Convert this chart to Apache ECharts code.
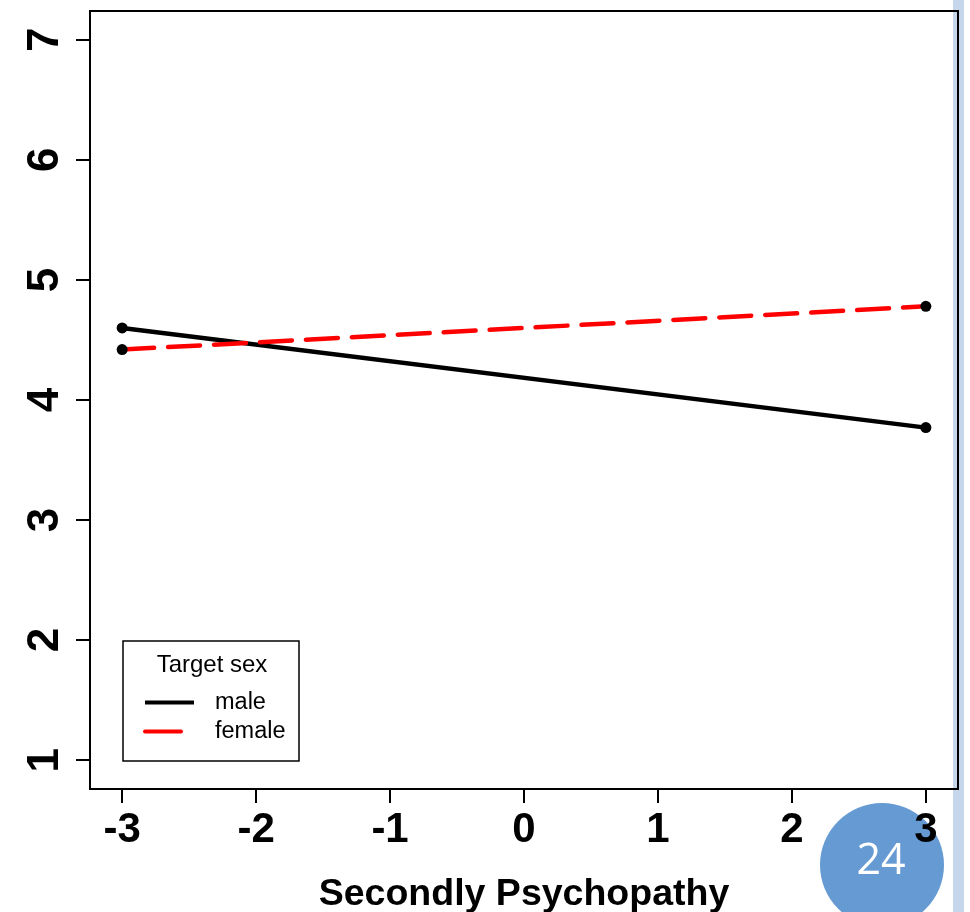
<!DOCTYPE html>
<html>
<head>
<meta charset="utf-8">
<script src="https://cdn.jsdelivr.net/npm/echarts@6/dist/echarts.min.js"></script>
<style>
html,body{margin:0;padding:0;background:#fff;}
#chart{width:970px;height:912px;}
</style>
</head>
<body>
<div id="chart"></div>
<script>
const xTicks = [-3, -2, -1, 0, 1, 2, 3];
const yTicks = [1, 2, 3, 4, 5, 6, 7];
const xPoints = [-3, 3];
const maleValues = [4.6, 3.77];
const femaleValues = [4.42, 4.78];
const seriesNames = ['male', 'female'];
const legendTitle = 'Target sex';
const xTitle = 'Secondly Psychopathy';
const slideNumber = '24';

const FONT = '"Liberation Sans", Arial, sans-serif';
const chart = echarts.init(document.getElementById('chart'), null, {renderer: 'canvas'});

const maleData = xPoints.map((x, i) => [x, maleValues[i]]);
const femaleData = xPoints.map((x, i) => [x, femaleValues[i]]);

const option = {
  backgroundColor: '#fff',
  animation: false,
  grid: {
    left: 90, right: 12, top: 11, bottom: 123,
    containLabel: false, outerBoundsMode: 'none',
    show: true, borderColor: '#000', borderWidth: 2, backgroundColor: 'transparent'
  },
  xAxis: {
    type: 'value', min: -3.24, max: 3.24,
    axisLine: {show: true, onZero: false, lineStyle: {color: '#000', width: 2}},
    axisTick: {show: true, length: 14, lineStyle: {color: '#000', width: 2}, customValues: xTicks},
    axisLabel: {
      customValues: xTicks, color: '#000', fontSize: 42, fontWeight: 'bold',
      fontFamily: FONT, margin: 20
    },
    splitLine: {show: false},
    name: xTitle, nameLocation: 'middle', nameGap: 87,
    nameTextStyle: {color: '#000', fontSize: 37.5, fontWeight: 'bold', fontFamily: FONT}
  },
  yAxis: {
    type: 'value', min: 0.76, max: 7.24,
    axisLine: {show: true, onZero: false, lineStyle: {color: '#000', width: 2}},
    axisTick: {show: true, length: 14, lineStyle: {color: '#000', width: 2}, customValues: yTicks},
    axisLabel: {
      customValues: yTicks, color: '#000', fontSize: 44, fontWeight: 'bold',
      fontFamily: FONT, rotate: 90, margin: 22
    },
    splitLine: {show: false}
  },
  legend: {
    orient: 'vertical', left: 138, top: 682,
    itemWidth: 49, itemHeight: 22, itemGap: -2,
    itemStyle: {opacity: 0},
    lineStyle: {width: 4},
    textStyle: {color: '#000', fontSize: 23.5, fontFamily: FONT, padding: [9, 0, 0, 16], lineHeight: 22},
    data: [
      {name: seriesNames[0], lineStyle: {width: 4}},
      {name: seriesNames[1], lineStyle: {width: 4, type: [36, 40]}}
    ]
  },
  series: [
    {
      name: seriesNames[0], type: 'line', data: maleData,
      symbol: 'circle', symbolSize: 11, showSymbol: true,
      lineStyle: {color: '#000', width: 4.5},
      itemStyle: {color: '#000'},
      z: 3
    },
    {
      name: seriesNames[1], type: 'line', data: femaleData,
      symbol: 'circle', symbolSize: 11, showSymbol: true,
      lineStyle: {color: '#ff0000', width: 4.5, type: [32, 14], cap: 'round'},
      itemStyle: {color: '#000'},
      z: 4
    }
  ],
  graphic: [
    {type: 'rect', z: -5, shape: {x: 953, y: 0, width: 11, height: 912}, style: {fill: '#c6d7ec'}},
    {type: 'circle', z: -5, shape: {cx: 882, cy: 865, r: 62}, style: {fill: '#659ad2'}},
    {type: 'text', z: 10, x: 881, y: 862, style: {text: slideNumber, fill: '#fff', fontSize: 43, fontFamily: '"Open Sans", sans-serif', align: 'center', verticalAlign: 'middle'}},
    {type: 'rect', z: 5, shape: {x: 123, y: 641, width: 176, height: 120}, style: {fill: 'none', stroke: '#000', lineWidth: 1.5}},
    {type: 'text', z: 6, x: 212, y: 665, style: {text: legendTitle, fill: '#000', fontSize: 24, fontFamily: FONT, align: 'center', verticalAlign: 'middle'}}
  ]
};
chart.setOption(option);
</script>
</body>
</html>
